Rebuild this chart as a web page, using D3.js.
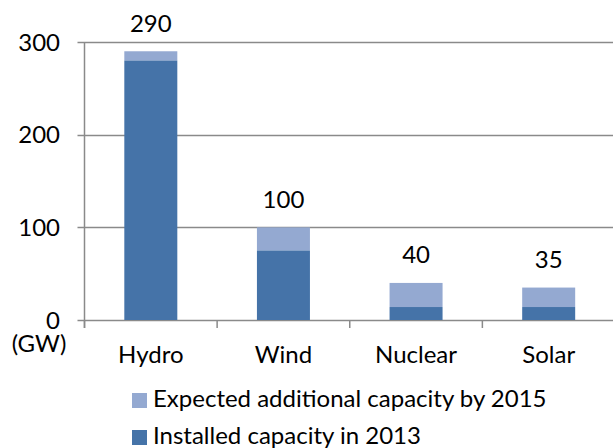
<!DOCTYPE html>
<html>
<head>
<meta charset="utf-8">
<script src="https://cdn.jsdelivr.net/npm/d3@7"></script>
<style>
  html, body { margin: 0; padding: 0; background: #fff; }
  svg { display: block; }
  text { font-family: Lato, "Open Sans", sans-serif; fill: #000; }
</style>
</head>
<body>
<svg id="chart" width="613" height="448"></svg>
<script>
// Generation capacity by source (GW)
const categories = ["Hydro", "Wind", "Nuclear", "Solar"];
const installed2013 = [280, 75, 14, 14];
const expectedTotal2015 = [290, 100, 40, 35];
const yTicks = [0, 100, 200, 300];
const seriesNames = ["Expected additional capacity by 2015", "Installed capacity in 2013"];

const colors = { installed: "#4573a8", additional: "#94a9d1", grid: "#8a8a8a" };
const fontSize = 24;

const svg = d3.select("#chart");
const plot = { left: 84.5, right: 615, top: 42, bottom: 320 };

const x = d3.scaleBand()
  .domain(categories)
  .range([plot.left, plot.right])
  .paddingInner(0.6)
  .paddingOuter(0.3);

const y = d3.scaleLinear()
  .domain([0, 300])
  .range([plot.bottom, plot.top]);

// Horizontal gridlines
svg.append("g")
  .selectAll("line")
  .data(yTicks)
  .join("line")
  .attr("x1", plot.left - 7)
  .attr("x2", 613)
  .attr("y1", d => Math.round(y(d)) + 0.5)
  .attr("y2", d => Math.round(y(d)) + 0.5)
  .attr("stroke", colors.grid)
  .attr("stroke-width", 1.5);

// Y axis labels
svg.append("g")
  .selectAll("text")
  .data(yTicks)
  .join("text")
  .attr("x", 60)
  .attr("y", d => y(d) + 8.5)
  .attr("text-anchor", "end")
  .attr("font-size", fontSize)
  .text(d => d);

// Vertical axis line
svg.append("line")
  .attr("x1", plot.left).attr("x2", plot.left)
  .attr("y1", y(300)).attr("y2", plot.bottom + 8)
  .attr("stroke", colors.grid)
  .attr("stroke-width", 1.5);

// Category tick marks at band boundaries
const boundaries = categories.map((c, i) => plot.left + i * (plot.right - plot.left) / categories.length);
svg.append("g")
  .selectAll("line")
  .data(boundaries)
  .join("line")
  .attr("x1", d => d).attr("x2", d => d)
  .attr("y1", plot.bottom).attr("y2", plot.bottom + 8)
  .attr("stroke", colors.grid)
  .attr("stroke-width", 1.5);

// Stacked bars
const bw = 53;
const bars = svg.append("g");
categories.forEach((c, i) => {
  const cx = x(c) + x.bandwidth() / 2;
  bars.append("rect")
    .attr("x", cx - bw / 2)
    .attr("width", bw)
    .attr("y", y(expectedTotal2015[i]))
    .attr("height", y(installed2013[i]) - y(expectedTotal2015[i]))
    .attr("fill", colors.additional);
  bars.append("rect")
    .attr("x", cx - bw / 2)
    .attr("width", bw)
    .attr("y", y(installed2013[i]))
    .attr("height", y(0) - y(installed2013[i]))
    .attr("fill", colors.installed);
  // Total value label
  svg.append("text")
    .attr("x", cx)
    .attr("y", y(expectedTotal2015[i]) - 19.5)
    .attr("text-anchor", "middle")
    .attr("font-size", fontSize)
    .text(expectedTotal2015[i]);
  // Category label
  svg.append("text")
    .attr("x", cx)
    .attr("y", 363)
    .attr("text-anchor", "middle")
    .attr("font-size", fontSize)
    .text(c);
});

// Unit label
svg.append("text")
  .attr("x", 39)
  .attr("y", 352)
  .attr("text-anchor", "middle")
  .attr("font-size", fontSize)
  .text("(GW)");

// Legend
const legend = svg.append("g");
const legendColors = [colors.additional, colors.installed];
const legendY = [407, 444];
seriesNames.forEach((name, i) => {
  legend.append("rect")
    .attr("x", 132).attr("y", legendY[i] - 14)
    .attr("width", 15).attr("height", 15)
    .attr("fill", legendColors[i]);
  legend.append("text")
    .attr("x", 153).attr("y", legendY[i])
    .attr("font-size", fontSize)
    .text(name);
});
</script>
</body>
</html>
